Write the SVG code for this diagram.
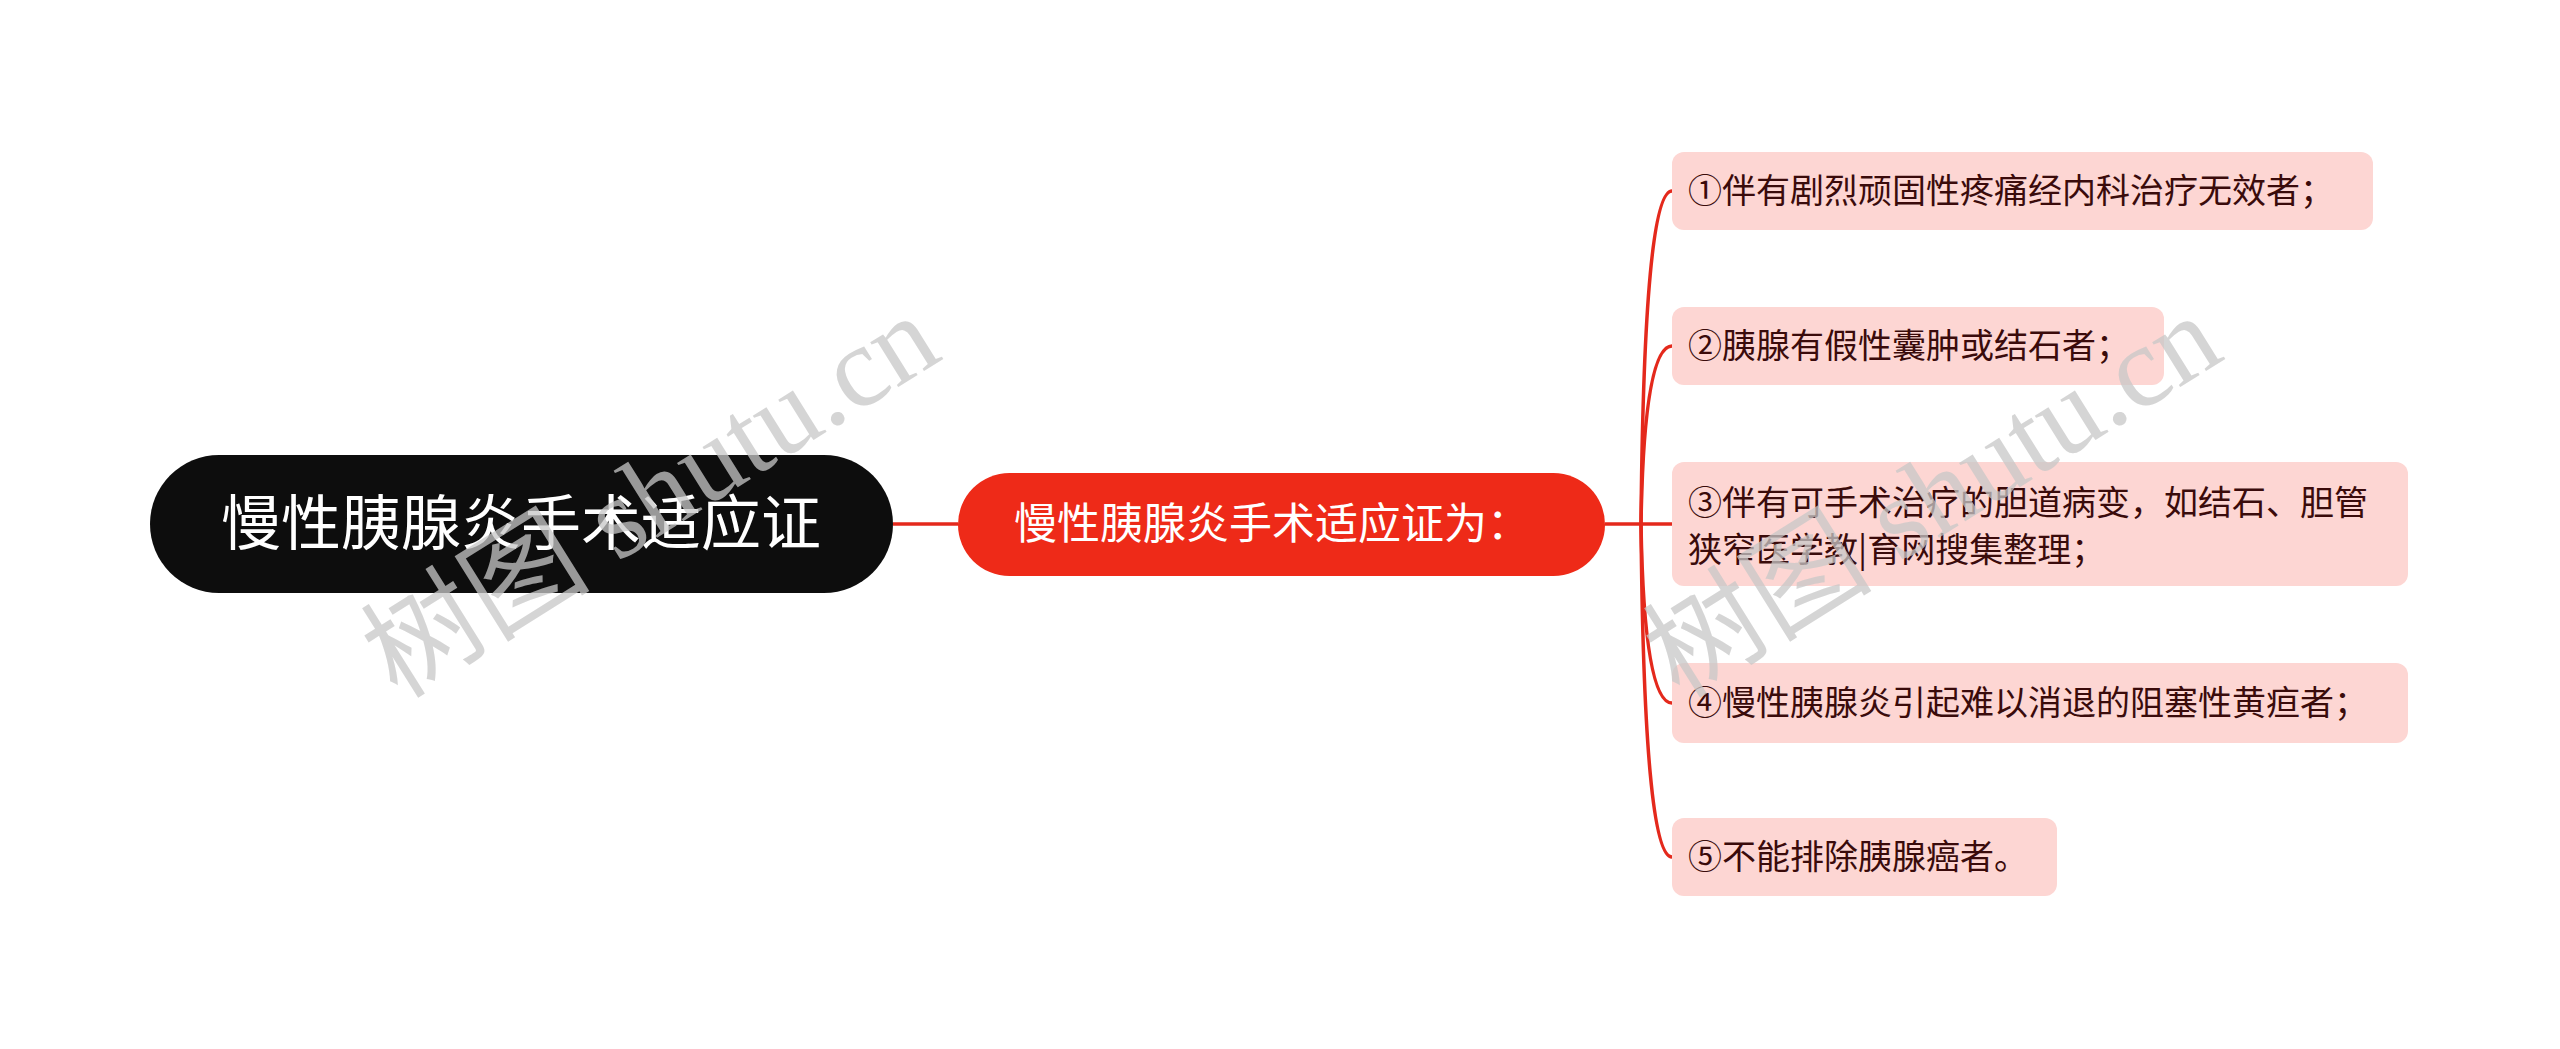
<svg xmlns="http://www.w3.org/2000/svg" width="2560" height="1049" viewBox="0 0 2560 1049">
<style>
.child{fill:#fdd6d3}
.ct{font-family:"Noto Sans CJK SC","Noto Sans",sans-serif;font-size:34px;fill:#3a0b0b}
.conn{fill:none;stroke:#e4291c;stroke-width:3.5}
.wm{font-family:"Liberation Serif","Noto Sans CJK SC",serif;font-size:115px;fill:#c8c8c8;opacity:0.75}
</style>
<rect width="2560" height="1049" fill="#ffffff"/>
<g id="connectors">
<line class="conn" x1="893" y1="524" x2="958" y2="524"/>
<line class="conn" x1="1605" y1="524" x2="1672" y2="524"/>
<path class="conn" d="M1641,524 Q1644,191 1672,191"/>
<path class="conn" d="M1641,524 Q1644,346 1672,346"/>
<path class="conn" d="M1641,524 Q1644,703 1672,703"/>
<path class="conn" d="M1641,524 Q1644,857 1672,857"/>
</g>
<g id="root">
<rect x="150" y="455" width="743" height="138" rx="69" fill="#0d0d0d"/>
<text x="521" y="545" text-anchor="middle" font-family="'Noto Sans CJK SC','Noto Sans',sans-serif" font-size="60" fill="#ffffff">慢性胰腺炎手术适应证</text>
</g>
<g id="main">
<rect x="958" y="473" width="647" height="103" rx="51.5" fill="#ee2a18"/>
<text x="1272" y="539" text-anchor="middle" font-family="'Noto Sans CJK SC','Noto Sans',sans-serif" font-size="43" fill="#ffffff">慢性胰腺炎手术适应证为：</text>
</g>
<g id="c1">
<rect class="child" x="1672" y="152" width="701" height="78" rx="12"/>
<text class="ct" x="1688" y="203">①伴有剧烈顽固性疼痛经内科治疗无效者；</text>
</g>
<g id="c2">
<rect class="child" x="1672" y="307" width="492" height="78" rx="12"/>
<text class="ct" x="1688" y="358">②胰腺有假性囊肿或结石者；</text>
</g>
<g id="c3">
<rect class="child" x="1672" y="462" width="736" height="124" rx="12"/>
<text class="ct" x="1688" y="515">③伴有可手术治疗的胆道病变，如结石、胆管</text>
<text class="ct" x="1688" y="562">狭窄医学教|育网搜集整理；</text>
</g>
<g id="c4">
<rect class="child" x="1672" y="663" width="736" height="80" rx="12"/>
<text class="ct" x="1688" y="715">④慢性胰腺炎引起难以消退的阻塞性黄疸者；</text>
</g>
<g id="c5">
<rect class="child" x="1672" y="818" width="385" height="78" rx="12"/>
<text class="ct" x="1688" y="869">⑤不能排除胰腺癌者。</text>
</g>
<g id="watermarks">
<text class="wm" x="650" y="535" text-anchor="middle" transform="rotate(-32 650 495)">树图 shutu.cn</text>
<text class="wm" x="1932" y="535" text-anchor="middle" transform="rotate(-32 1932 495)">树图 shutu.cn</text>
</g>
</svg>
